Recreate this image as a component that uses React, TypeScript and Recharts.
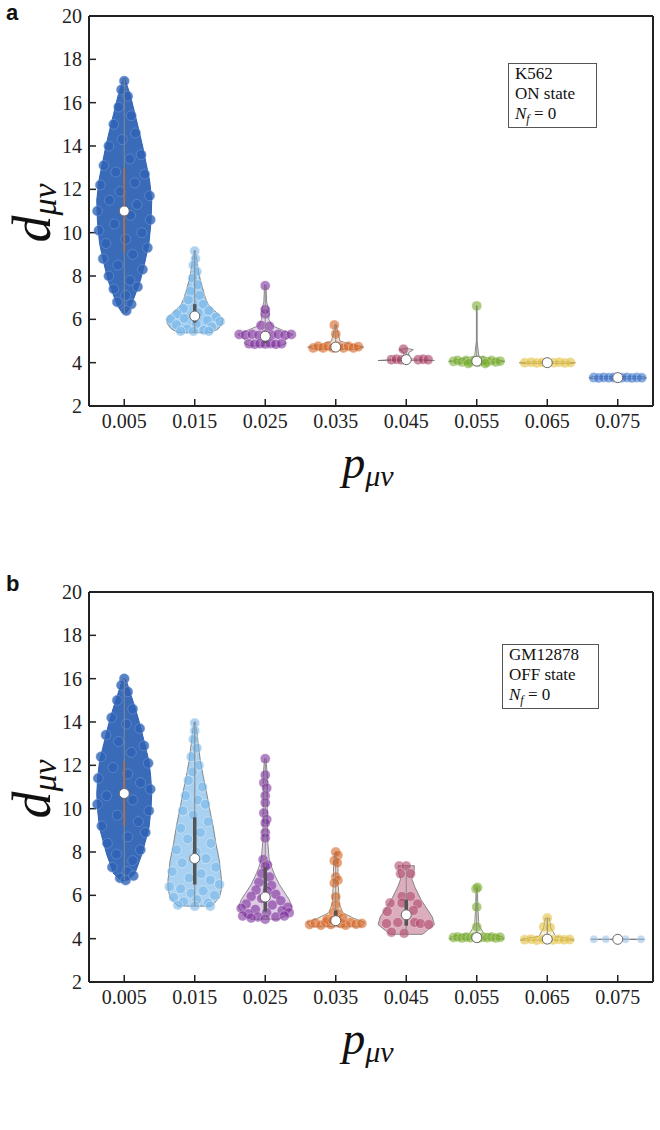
import React from "react";
import { ComposedChart, Scatter, XAxis, YAxis } from "recharts";

const P_VALUES = [0.005, 0.015, 0.025, 0.035, 0.045, 0.055, 0.065, 0.075];
const D_TICKS = [2, 4, 6, 8, 10, 12, 14, 16, 18, 20];

// ---------- panel a : K562, ON state ----------
const K562_MEDIAN = [11.0, 6.15, 5.22, 4.72, 4.14, 4.07, 4.0, 3.31];
const K562_MIN = [6.3, 5.4, 4.82, 4.65, 4.12, 3.98, 3.98, 3.29];
const K562_MAX = [17.1, 9.2, 7.58, 5.75, 4.63, 6.62, 4.02, 3.33];
const K562_Q1 = [9.1, 5.85, 4.9, 4.68, 4.13, 4.03, 3.99, 3.3];
const K562_Q3 = [13.0, 6.7, 5.32, 4.76, 4.15, 4.1, 4.01, 3.32];

// violin outlines: [d value, half width in units of 0.001]
const K562_SHAPES: number[][][] = [
  [[6.3, 0.3], [6.6, 0.9], [7.0, 1.4], [7.8, 2.3], [8.6, 2.9], [9.5, 3.5], [10.5, 3.8], [11.5, 3.9], [12.4, 3.6], [13.2, 3.1], [14.0, 2.6], [14.7, 2.1], [15.5, 1.5], [16.3, 0.9], [16.8, 0.4], [17.1, 0.1]],
  [[5.38, 2.3], [5.55, 3.3], [5.8, 3.9], [6.0, 4.0], [6.2, 3.5], [6.45, 2.6], [6.7, 1.9], [7.0, 1.5], [7.8, 0.8], [8.3, 0.5], [8.8, 0.3], [9.15, 0.1]],
  [[4.78, 2.2], [4.9, 3.0], [5.05, 2.8], [5.3, 3.9], [5.48, 2.6], [5.7, 1.0], [6.0, 0.5], [6.3, 0.6], [6.8, 0.2], [7.58, 0.1]],
  [[4.62, 3.0], [4.72, 4.0], [4.82, 2.4], [5.0, 0.6], [5.4, 0.3], [5.75, 0.1]],
  [[4.1, 4.0], [4.18, 0.6], [4.45, 0.3], [4.6, 1.0], [4.66, 0.1]],
  [[3.97, 2.0], [4.06, 4.0], [4.16, 2.4], [4.3, 0.3], [5.0, 0.05], [6.62, 0.05]],
  [[3.96, 3.5], [4.0, 4.0], [4.04, 2.0]],
  [[3.26, 3.8], [3.31, 4.1], [3.36, 3.5]],
];

// jittered points: [offset in units of 0.001, d value]
const K562_POINTS: number[][][] = [
  [[0, 17.0], [-0.4, 16.6], [0.5, 16.3], [-0.8, 15.8], [1.0, 15.4], [-1.5, 15.0], [1.6, 14.6], [-0.3, 14.3], [-2.2, 14.0], [2.4, 13.6], [0.8, 13.4], [-2.9, 13.1], [-1.2, 12.8], [2.9, 12.7], [1.5, 12.3], [-3.4, 12.2], [-0.6, 11.9], [3.6, 11.7], [-2.1, 11.5], [1.8, 11.3], [-3.8, 11.0], [0.9, 10.8], [3.7, 10.6], [-1.4, 10.4], [-3.6, 10.1], [2.5, 10.0], [0.2, 9.7], [-2.6, 9.5], [3.3, 9.3], [1.2, 9.0], [-3.0, 8.8], [-0.9, 8.5], [2.6, 8.3], [-2.2, 8.0], [0.8, 7.8], [1.9, 7.5], [-1.5, 7.4], [0.2, 7.1], [-1.0, 6.8], [1.0, 6.7], [0.3, 6.4]],
  [[0, 9.15], [0.1, 8.8], [-0.2, 8.5], [0.3, 8.2], [-0.3, 7.9], [0.4, 7.6], [-0.6, 7.3], [0.7, 7.1], [-0.9, 6.9], [1.2, 6.7], [-1.6, 6.5], [2.0, 6.4], [-2.5, 6.25], [0.5, 6.3], [3.0, 6.1], [-3.4, 6.0], [-1.5, 6.05], [1.8, 5.95], [3.6, 5.9], [-2.6, 5.75], [0.2, 5.8], [2.4, 5.65], [-1.1, 5.55], [1.3, 5.5], [-2.0, 5.45], [-0.2, 5.45], [2.0, 5.45]],
  [[-3.7, 5.3], [-2.8, 5.28], [-1.85, 5.31], [-0.9, 5.27], [0, 5.3], [0.9, 5.28], [1.85, 5.31], [2.8, 5.27], [3.7, 5.3], [-2.3, 4.87], [-1.5, 4.85], [-0.75, 4.88], [0, 4.86], [0.75, 4.88], [1.5, 4.85], [2.3, 4.87], [-0.6, 5.72], [0.6, 5.68], [0, 6.25], [0, 6.45], [0, 7.55]],
  [[-3.2, 4.68], [-2.5, 4.76], [-1.8, 4.68], [-1.1, 4.76], [-0.4, 4.68], [0.4, 4.76], [1.1, 4.68], [1.8, 4.76], [2.5, 4.68], [3.2, 4.74], [0, 5.32], [-0.2, 5.74]],
  [[-2.1, 4.14], [-1.4, 4.16], [-0.7, 4.13], [1.7, 4.14], [2.4, 4.16], [3.1, 4.14], [-0.4, 4.62]],
  [[-3.3, 4.06], [-2.7, 4.1], [-2.1, 4.03], [-1.5, 4.1], [-0.9, 4.03], [-0.3, 4.1], [0.3, 4.03], [0.9, 4.1], [1.5, 4.03], [2.1, 4.1], [2.7, 4.03], [3.3, 4.07], [-1.2, 3.96], [1.2, 3.96], [0, 6.62]],
  [[-3.2, 4.0], [-2.3, 4.02], [-1.5, 3.99], [-0.7, 4.01], [0.9, 4.0], [1.7, 4.02], [2.5, 3.99], [3.3, 4.01]],
  [[-3.4, 3.31], [-2.7, 3.29], [-2.0, 3.32], [-1.3, 3.3], [-0.6, 3.31], [0.6, 3.3], [1.3, 3.32], [2.0, 3.29], [2.7, 3.31], [3.4, 3.3]],
];

// ---------- panel b : GM12878, OFF state ----------
const GM_MEDIAN = [10.7, 7.7, 5.92, 4.83, 5.1, 4.05, 3.98, 3.97];
const GM_MIN = [6.7, 5.5, 4.9, 4.6, 4.22, 4.0, 3.94, 3.97];
const GM_MAX = [16.0, 14.0, 12.3, 8.0, 7.37, 6.35, 4.95, 3.97];
const GM_Q1 = [9.2, 6.5, 5.25, 4.7, 4.6, 4.02, 3.95, 3.97];
const GM_Q3 = [12.2, 9.6, 7.3, 5.3, 5.8, 4.1, 4.0, 3.97];

const GM_SHAPES: number[][][] = [
  [[6.7, 0.5], [7.0, 1.5], [7.9, 2.5], [9.1, 3.5], [10.0, 3.8], [10.7, 3.9], [11.5, 3.75], [12.2, 3.5], [13.0, 2.9], [13.8, 2.3], [14.6, 1.6], [15.3, 0.9], [15.8, 0.4], [16.0, 0.1]],
  [[5.5, 2.4], [5.9, 3.5], [6.3, 3.8], [6.7, 3.8], [7.6, 3.5], [8.4, 3.0], [9.2, 2.6], [10.0, 2.1], [10.7, 1.7], [11.5, 1.2], [12.2, 0.8], [13.0, 0.5], [13.6, 0.3], [14.0, 0.1]],
  [[4.9, 2.0], [5.1, 3.1], [5.45, 3.8], [5.8, 3.4], [6.1, 2.8], [6.5, 2.0], [6.9, 1.4], [7.3, 0.9], [7.7, 0.55], [8.5, 0.35], [10.0, 0.3], [11.5, 0.3], [12.3, 0.1]],
  [[4.55, 3.6], [4.75, 4.1], [4.95, 2.5], [5.2, 1.0], [5.6, 0.5], [6.5, 0.35], [7.5, 0.3], [8.0, 0.1]],
  [[4.2, 2.3], [4.65, 4.0], [5.0, 3.7], [5.8, 2.1], [6.4, 1.2], [6.75, 0.8], [7.05, 1.1], [7.37, 1.15]],
  [[3.98, 3.9], [4.1, 3.6], [4.25, 1.0], [4.6, 0.3], [5.5, 0.15], [6.35, 0.1]],
  [[3.93, 3.8], [4.0, 3.3], [4.1, 1.2], [4.5, 0.5], [4.95, 0.3]],
  [[3.96, 3.8], [3.98, 3.8]],
];

const GM_POINTS: number[][][] = [
  [[0, 16.0], [-0.4, 15.7], [0.5, 15.4], [-1.0, 15.0], [1.2, 14.6], [-1.8, 14.2], [0.3, 13.9], [2.2, 13.7], [-2.6, 13.4], [-0.8, 13.1], [2.8, 12.9], [1.0, 12.6], [-3.3, 12.4], [3.4, 12.1], [-1.6, 11.9], [0.5, 11.6], [-3.7, 11.4], [2.3, 11.2], [3.7, 10.9], [-2.5, 10.6], [1.2, 10.4], [-3.8, 10.2], [3.5, 9.9], [-1.0, 9.7], [2.0, 9.4], [-3.2, 9.2], [3.0, 8.9], [0.5, 8.7], [-2.4, 8.4], [2.3, 8.1], [-1.1, 7.9], [1.2, 7.6], [-1.7, 7.3], [0.4, 7.1], [1.3, 6.9], [-0.6, 6.8], [0.2, 6.7]],
  [[0, 13.95], [0, 13.6], [-0.2, 13.2], [0.3, 12.8], [-0.5, 12.4], [0.6, 12.0], [-0.3, 11.7], [-0.9, 11.3], [1.1, 11.0], [-1.3, 10.6], [0.4, 10.4], [1.5, 10.2], [-1.7, 9.9], [-0.2, 9.7], [1.9, 9.4], [-2.0, 9.1], [0.8, 8.9], [-1.0, 8.6], [2.3, 8.4], [-2.6, 8.1], [0.2, 8.0], [1.6, 7.7], [-1.8, 7.5], [3.0, 7.3], [-3.2, 7.1], [0.9, 7.0], [-0.8, 6.8], [2.2, 6.7], [3.5, 6.5], [-3.6, 6.4], [-2.0, 6.3], [1.2, 6.2], [-0.5, 6.1], [2.8, 6.0], [-3.0, 5.9], [0.3, 5.8], [-1.6, 5.7], [1.9, 5.65], [-2.4, 5.55], [0, 5.5], [2.2, 5.5]],
  [[0, 12.3], [0, 11.55], [-0.2, 11.2], [0.2, 10.95], [0, 10.6], [0, 10.27], [-0.2, 9.8], [0.2, 9.5], [0, 9.34], [0, 8.9], [0, 8.65], [-0.3, 7.65], [0.3, 7.4], [0, 7.33], [-0.5, 7.0], [0.6, 6.85], [-0.9, 6.6], [0.9, 6.45], [-1.3, 6.25], [0.3, 6.2], [1.5, 6.05], [-2.0, 5.95], [-0.5, 5.85], [2.2, 5.75], [-2.7, 5.6], [1.0, 5.55], [3.2, 5.45], [-3.4, 5.4], [-1.4, 5.35], [2.4, 5.3], [-2.4, 5.15], [0.2, 5.2], [3.4, 5.2], [-3.2, 5.05], [-1.0, 5.0], [1.5, 5.0], [0, 4.9], [-2.0, 4.95], [2.7, 5.05]],
  [[0, 8.0], [0.3, 7.85], [-0.2, 7.6], [0.2, 7.5], [0, 6.85], [0.3, 6.7], [-0.2, 6.57], [0, 5.93], [0, 5.55], [-0.3, 5.2], [0.3, 5.15], [-3.7, 4.65], [-2.9, 4.72], [-2.1, 4.62], [-1.4, 4.75], [-0.7, 4.65], [0.7, 4.7], [1.4, 4.62], [2.1, 4.75], [2.9, 4.67], [3.7, 4.7], [-1.2, 4.9], [1.0, 4.95], [-0.4, 4.85]],
  [[-1.0, 7.35], [0, 7.35], [-0.8, 7.0], [0.6, 7.0], [-0.6, 5.95], [0.6, 5.95], [-2.3, 5.65], [-0.6, 5.65], [1.6, 5.6], [-2.7, 5.25], [1.0, 5.3], [-2.8, 4.7], [-1.2, 4.75], [1.2, 4.75], [2.0, 4.7], [3.2, 4.65], [-2.1, 4.3], [-0.3, 4.25]],
  [[-3.3, 4.05], [-2.7, 4.08], [-2.1, 4.03], [-1.5, 4.07], [-0.9, 4.04], [-0.3, 4.08], [0.3, 4.03], [0.9, 4.07], [1.5, 4.04], [2.1, 4.08], [2.7, 4.03], [3.3, 4.06], [0, 4.54], [0, 5.46], [-0.1, 6.3], [0.1, 6.36]],
  [[-3.2, 3.95], [-2.3, 3.97], [-1.5, 3.93], [-0.6, 3.96], [0.8, 3.94], [1.6, 3.97], [2.4, 3.95], [3.2, 3.96], [-0.5, 4.55], [0.4, 4.52], [0, 4.95]],
  [[-3.4, 3.97], [-1.7, 3.97], [1.1, 3.97], [3.3, 3.97]],
];

// ---------- styles ----------
const K562_COLORS = ["#2f63b5", "#7ab8ea", "#7d2f9c", "#d3621f", "#a43a60", "#78ac2d", "#e2bf3c", "#3a72c8"];
const GM_COLORS = ["#2f63b5", "#7ab8ea", "#7d2f9c", "#d3621f", "#b04a6d", "#78ac2d", "#e2bf3c", "#9cc2e8"];
const K562_FILL_OPACITY = [0.95, 0.75, 0.2, 0.2, 0.2, 0.2, 0.2, 0.2];
const GM_FILL_OPACITY = [0.95, 0.65, 0.25, 0.2, 0.45, 0.2, 0.2, 0.2];

const SERIF = "'Liberation Serif', 'Times New Roman', serif";
const AXIS_COLOR = "#222";
const X_DOMAIN = [0, 0.08];
const Y_DOMAIN = [2, 20];

const XTitle = (props: any) => {
  const vb = props.viewBox || { x: 89, y: 406, width: 564, height: 170 };
  return (
    <text x={vb.x + vb.width / 2 - 3} y={vb.y + 72} textAnchor="middle" fontFamily={SERIF} fontStyle="italic" fill="#111">
      <tspan fontSize={46}>p</tspan>
      <tspan fontSize={30} dy={8}>μν</tspan>
    </text>
  );
};

const YTitle = (props: any) => {
  const vb = props.viewBox || { x: 0, y: 16, width: 89, height: 390 };
  const cy = vb.y + vb.height / 2 + 2;
  return (
    <text transform={`translate(50, ${cy}) rotate(-90)`} textAnchor="middle" fontFamily={SERIF} fontStyle="italic" fill="#111">
      <tspan fontSize={54}>d</tspan>
      <tspan fontSize={34} dy={6}>μν</tspan>
    </text>
  );
};

const noShape = () => <g />;

function Panel(props: any) {
  const { letter, letterTop, height, box, info, medians, mins, maxs, q1, q3, shapes, points, colors, fillOpacity } = props;

  const outlines = shapes.map((prof: number[][], i: number) => {
    const c = P_VALUES[i];
    const right = prof.map(([v, w]) => ({ x: c + w * 0.001, y: v }));
    const left = prof.slice().reverse().map(([v, w]) => ({ x: c - w * 0.001, y: v }));
    return [...right, ...left];
  });
  const dots = points.map((list: number[][], i: number) => list.map(([o, v]) => ({ x: P_VALUES[i] + o * 0.001, y: v })));
  const medianData = P_VALUES.map((c, i) => ({ x: c, y: medians[i] }));

  const axisLine = { stroke: AXIS_COLOR, strokeWidth: 2 };
  const tickLine = { stroke: AXIS_COLOR, strokeWidth: 1.5 };
  const tickFont = { fontSize: 20, fill: "#222", fontFamily: SERIF };

  return (
    <div style={{ position: "relative", width: 660, height }}>
      <ComposedChart width={660} height={height} margin={{ top: 15, right: 6, bottom: 0, left: 0 }}>
        <XAxis type="number" dataKey="x" domain={X_DOMAIN} ticks={P_VALUES} interval={0} allowDataOverflow
          height={height - 406} tickSize={-7} tickMargin={15} axisLine={axisLine} tickLine={tickLine}
          tick={tickFont} tickFormatter={(v: number) => v.toFixed(3)} label={{ content: XTitle }} />
        <XAxis xAxisId="top" orientation="top" type="number" dataKey="x" domain={X_DOMAIN} ticks={P_VALUES}
          interval={0} allowDataOverflow height={1} tickSize={-7} tick={false} axisLine={axisLine} tickLine={tickLine} />
        <YAxis type="number" dataKey="y" domain={Y_DOMAIN} ticks={D_TICKS} interval={0} allowDataOverflow
          width={89} tickSize={-7} tickMargin={14} axisLine={axisLine} tickLine={tickLine} tick={tickFont}
          label={{ content: YTitle }} />
        <YAxis yAxisId="right" orientation="right" type="number" dataKey="y" domain={Y_DOMAIN} ticks={D_TICKS}
          interval={0} allowDataOverflow width={1} tickSize={-7} tick={false} axisLine={axisLine} tickLine={tickLine} />

        {outlines.map((pts: any[], i: number) => (
          <Scatter key={`v${i}`} data={pts} isAnimationActive={false} shape={noShape} lineJointType="linearClosed"
            line={{ stroke: i === 0 ? colors[0] : "#6e6e6e", strokeWidth: i === 0 ? 1 : 0.8, fill: colors[i], fillOpacity: fillOpacity[i] }} />
        ))}

        {dots.map((pts: any[], i: number) => (
          <Scatter key={`d${i}`} data={pts} isAnimationActive={false}
            shape={(p: any) => (
              <circle cx={p.cx} cy={p.cy} r={i === 7 && letter === "b" ? 4 : 5} fill={colors[i]}
                fillOpacity={i === 0 ? 0.8 : 0.6}
                stroke={i === 0 ? "#7fa4dd" : "#ffffff"} strokeOpacity={i === 0 ? 0.45 : i === 1 ? 0.4 : 0.3} strokeWidth={1} />
            )} />
        ))}

        {P_VALUES.map((c, i) => (
          <Scatter key={`w${i}`} data={[{ x: c, y: mins[i] }, { x: c, y: maxs[i] }]} isAnimationActive={false}
            shape={noShape} line={{ stroke: "#888", strokeWidth: 1 }} />
        ))}
        {P_VALUES.map((c, i) => (
          <Scatter key={`q${i}`} data={[{ x: c, y: q1[i] }, { x: c, y: q3[i] }]} isAnimationActive={false}
            shape={noShape} line={{ stroke: i === 0 ? "#b8703a" : "#555", strokeWidth: i === 0 ? 1.6 : 3.5 }} />
        ))}

        <Scatter data={medianData} xAxisId="top" yAxisId="right" isAnimationActive={false}
          shape={(p: any) => <circle cx={p.cx} cy={p.cy} r={5} fill="#fff" stroke="#666" strokeWidth={1} />} />
      </ComposedChart>

      <div style={{ position: "absolute", left: 6, top: letterTop, fontFamily: "'Liberation Sans', Arial, sans-serif",
        fontWeight: "bold", fontSize: 22, lineHeight: "22px", color: "#111" }}>{letter}</div>

      <div style={{ position: "absolute", left: box.left, top: box.top, width: box.width, height: box.height,
        boxSizing: "border-box", border: "1px solid #555", background: "#fff", padding: "0 6px",
        fontFamily: SERIF, fontSize: 17, lineHeight: "20px", color: "#111" }}>
        <div>{info[0]}</div>
        <div>{info[1]}</div>
        <div>
          <i>N</i>
          <span style={{ fontStyle: "italic", fontSize: 12, position: "relative", top: 4 }}>f</span>
          {" = 0"}
        </div>
      </div>
    </div>
  );
}

export default function App() {
  return (
    <div style={{ width: 660, background: "#fff" }}>
      <style>{"body{margin:0;background:#fff}"}</style>
      <Panel letter="a" letterTop={2} height={576} box={{ left: 508, top: 63, width: 89, height: 65 }}
        info={["K562", "ON state"]} medians={K562_MEDIAN} mins={K562_MIN} maxs={K562_MAX} q1={K562_Q1} q3={K562_Q3}
        shapes={K562_SHAPES} points={K562_POINTS} colors={K562_COLORS} fillOpacity={K562_FILL_OPACITY} />
      <Panel letter="b" letterTop={-3} height={554} box={{ left: 502, top: 68, width: 97, height: 65 }}
        info={["GM12878", "OFF state"]} medians={GM_MEDIAN} mins={GM_MIN} maxs={GM_MAX} q1={GM_Q1} q3={GM_Q3}
        shapes={GM_SHAPES} points={GM_POINTS} colors={GM_COLORS} fillOpacity={GM_FILL_OPACITY} />
    </div>
  );
}
